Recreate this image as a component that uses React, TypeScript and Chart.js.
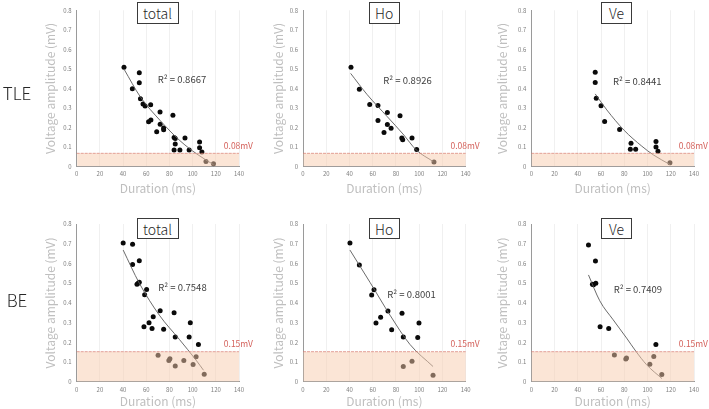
import React, { useEffect, useRef } from 'react';
import { Chart, registerables } from 'chart.js';

Chart.register(...registerables);

// ---------- data ----------
const groups = ['TLE', 'BE'];
const panelTitles = ['total', 'Ho', 'Ve'];
const xAxisTitle = 'Duration (ms)';
const yAxisTitle = 'Voltage amplitude (mV)';
const thresholdValues = [0.068, 0.153];
const thresholdLabels = ['0.08mV', '0.15mV'];
const rSquared = ['0.8667', '0.8926', '0.8441', '0.7548', '0.8001', '0.7409'];

const tleTotalDuration = [40.8, 54, 54, 48, 55, 57.2, 59, 63.8, 71.9, 62, 64, 72, 75, 75, 69, 83, 84, 85, 93.4, 85, 84, 89, 97, 106, 106, 108, 111.5, 118];
const tleTotalAmplitude = [0.509, 0.48, 0.429, 0.398, 0.347, 0.32, 0.31, 0.316, 0.28, 0.229, 0.239, 0.217, 0.197, 0.188, 0.178, 0.263, 0.149, 0.144, 0.147, 0.116, 0.085, 0.085, 0.085, 0.126, 0.096, 0.075, 0.026, 0.015];
const tleTotalTrendDuration = [41, 55, 72, 89, 103.5, 118];
const tleTotalTrendAmplitude = [0.497, 0.356, 0.236, 0.133, 0.065, 0.01];

const tleHoDuration = [41.3, 48.5, 57.4, 64.5, 64.5, 72.6, 72.6, 75.8, 69.7, 83.5, 85, 85.8, 93.8, 97.8, 112.7];
const tleHoAmplitude = [0.508, 0.396, 0.318, 0.313, 0.236, 0.277, 0.216, 0.196, 0.175, 0.26, 0.146, 0.138, 0.146, 0.087, 0.024];
const tleHoTrendDuration = [41, 55, 72.6, 86, 97.5, 112];
const tleHoTrendAmplitude = [0.477, 0.37, 0.255, 0.167, 0.085, 0.026];

const tleVeDuration = [55, 55, 55.9, 60, 63.1, 76, 85.2, 85.8, 89.8, 107.3, 107.3, 109, 119.3];
const tleVeAmplitude = [0.483, 0.43, 0.35, 0.311, 0.231, 0.19, 0.089, 0.12, 0.089, 0.129, 0.1, 0.078, 0.02];
const tleVeTrendDuration = [55, 65, 80, 95, 105, 119.5];
const tleVeTrendAmplitude = [0.372, 0.29, 0.185, 0.105, 0.06, 0.01];

const beTotalDuration = [40.1, 48.2, 48.2, 54, 53, 54, 52, 60.3, 58.6, 72, 66, 62.4, 58, 65, 75, 84, 85, 98, 97, 105, 70.2, 80.4, 79.5, 85, 92.4, 100.4, 103, 110];
const beTotalAmplitude = [0.704, 0.697, 0.595, 0.614, 0.5, 0.505, 0.495, 0.468, 0.441, 0.36, 0.33, 0.3, 0.28, 0.27, 0.267, 0.35, 0.228, 0.3, 0.228, 0.19, 0.135, 0.117, 0.108, 0.081, 0.108, 0.088, 0.128, 0.039];
const beTotalTrendDuration = [40.1, 54, 71.3, 88.6, 103, 109.4];
const beTotalTrendAmplitude = [0.668, 0.5, 0.338, 0.215, 0.11, 0.059];

const beHoDuration = [40.4, 48.5, 61.1, 59.1, 73.1, 66.8, 62.8, 76.3, 85.2, 86.3, 99.8, 98.7, 86.3, 93.8, 111.9];
const beHoAmplitude = [0.704, 0.592, 0.467, 0.44, 0.359, 0.328, 0.298, 0.264, 0.348, 0.227, 0.298, 0.225, 0.078, 0.105, 0.034];
const beHoTrendDuration = [40.4, 57.7, 74.9, 92, 111.9];
const beHoTrendAmplitude = [0.668, 0.504, 0.338, 0.19, 0.078];

const beVeDuration = [49.2, 55.2, 55.5, 53.5, 52.6, 59.2, 66.6, 107.2, 71.5, 81.3, 81.9, 102, 105.4, 112.3];
const beVeAmplitude = [0.694, 0.613, 0.5, 0.492, 0.495, 0.28, 0.271, 0.19, 0.136, 0.116, 0.121, 0.089, 0.129, 0.038];
const beVeTrendDuration = [49.2, 58.9, 70.4, 82, 90, 99.2, 112.4];
const beVeTrendAmplitude = [0.542, 0.411, 0.315, 0.222, 0.155, 0.087, 0.017];

const seriesDuration = [tleTotalDuration, tleHoDuration, tleVeDuration, beTotalDuration, beHoDuration, beVeDuration];
const seriesAmplitude = [tleTotalAmplitude, tleHoAmplitude, tleVeAmplitude, beTotalAmplitude, beHoAmplitude, beVeAmplitude];
const trendDuration = [tleTotalTrendDuration, tleHoTrendDuration, tleVeTrendDuration, beTotalTrendDuration, beHoTrendDuration, beVeTrendDuration];
const trendAmplitude = [tleTotalTrendAmplitude, tleHoTrendAmplitude, tleVeTrendAmplitude, beTotalTrendAmplitude, beHoTrendAmplitude, beVeTrendAmplitude];

// ---------- layout ----------
const FONT = "'Noto Sans CJK JP', 'Noto Sans', sans-serif";
const TITLE_SIZE = 12;
const cols = [
  { canvasLeft: 30, canvasRight: 262, areaLeft: 76.7, areaRight: 239, yTitleX: 50, boxLeft: 136.5, boxW: 42 },
  { canvasLeft: 262, canvasRight: 490, areaLeft: 303, areaRight: 465.7, yTitleX: 278.3, boxLeft: 368.5, boxW: 31.5 },
  { canvasLeft: 490, canvasRight: 709, areaLeft: 531.3, areaRight: 694, yTitleX: 502.7, boxLeft: 601, boxW: 31 },
];
const rows = [
  { canvasTop: 0, canvasBottom: 205, areaTop: 10.3, areaBottom: 166.6, xTitleY: 188.8, boxTop: 2, boxH: 22, groupY: 91.7 },
  { canvasTop: 205, canvasBottom: 409, areaTop: 224, areaBottom: 381.9, xTitleY: 401.3, boxTop: 218, boxH: 21, groupY: 299 },
];
// R² label anchors, in data coordinates of each panel
const r2Anchor = [
  [90.8, 0.446], [89.9, 0.439], [91.2, 0.437],
  [91.2, 0.477], [93.4, 0.443], [91.7, 0.471],
];

const overlayPlugin = {
  id: 'overlay',
  afterDatasetsDraw(chart: any, _args: any, opts: any) {
    const { ctx, chartArea: a, scales } = chart;
    const x = scales.x;
    const y = scales.y;
    const yT = y.getPixelForValue(opts.threshold);
    const y0 = y.getPixelForValue(0);
    ctx.save();
    ctx.fillStyle = 'rgba(247,203,173,0.5)';
    ctx.fillRect(a.left + 0.5, yT, a.right - a.left - 0.5, y0 - yT - 0.5);
    ctx.strokeStyle = 'rgba(214,120,110,0.85)';
    ctx.lineWidth = 0.8;
    ctx.setLineDash([3, 1]);
    ctx.beginPath();
    ctx.moveTo(a.left, yT);
    ctx.lineTo(a.right, yT);
    ctx.stroke();
    ctx.setLineDash([]);
    ctx.font = `8.5px ${FONT}`;
    ctx.fillStyle = '#d4625c';
    ctx.textAlign = 'right';
    ctx.textBaseline = 'middle';
    ctx.fillText(opts.thresholdLabel, a.right + 14, yT - 7.5);
    ctx.font = `9.5px ${FONT}`;
    ctx.fillStyle = '#404040';
    ctx.textAlign = 'center';
    ctx.fillText(`R² = ${opts.r2}`, x.getPixelForValue(opts.r2x), y.getPixelForValue(opts.r2y));
    ctx.restore();
  },
};

function buildConfig(pi: number) {
  const row = rows[Math.floor(pi / 3)];
  const col = cols[pi % 3];
  const g = Math.floor(pi / 3);
  const lh = TITLE_SIZE * 1.2;
  const padLeft = col.yTitleX - col.canvasLeft - lh / 2;
  const yWidth = col.areaLeft - col.canvasLeft - padLeft;
  const xHeight = row.xTitleY - row.areaBottom + lh / 2;
  const padBottom = row.canvasBottom - row.areaBottom - xHeight;
  const padTop = row.areaTop - row.canvasTop;
  const padRight = col.canvasRight - col.areaRight;

  const pts = seriesDuration[pi].map((d, i) => ({ x: d, y: seriesAmplitude[pi][i] }));
  const trend = trendDuration[pi].map((d, i) => ({ x: d, y: trendAmplitude[pi][i] }));

  return {
    type: 'scatter',
    data: {
      datasets: [
        {
          type: 'line',
          data: trend,
          borderColor: '#5a5a5a',
          borderWidth: 0.9,
          pointRadius: 0,
          tension: 0.4,
          cubicInterpolationMode: 'monotone',
          fill: false,
          showLine: true,
          order: 0,
        },
        {
          type: 'scatter',
          data: pts,
          backgroundColor: '#0a0a0a',
          borderWidth: 0,
          pointRadius: 2.5,
          order: 1,
        },
      ],
    },
    options: {
      responsive: false,
      maintainAspectRatio: false,
      animation: false,
      devicePixelRatio: 1,
      events: [],
      layout: { padding: { left: padLeft, right: padRight, top: padTop, bottom: padBottom } },
      plugins: {
        legend: { display: false },
        tooltip: { enabled: false },
        overlay: {
          threshold: thresholdValues[g],
          thresholdLabel: thresholdLabels[g],
          r2: rSquared[pi],
          r2x: r2Anchor[pi][0],
          r2y: r2Anchor[pi][1],
        },
      },
      scales: {
        x: {
          type: 'linear',
          min: 0,
          max: 140,
          afterFit: (s: any) => { s.height = xHeight; },
          ticks: { stepSize: 20, font: { size: 6, family: FONT }, color: '#7f7f7f', padding: 4 },
          grid: { color: '#f0f0f0', drawTicks: false, lineWidth: 1 },
          border: { display: true, color: '#9a9a9a', width: 1 },
          title: { display: true, text: xAxisTitle, color: '#bfbfbf', font: { size: TITLE_SIZE, family: FONT }, padding: 0 },
        },
        y: {
          type: 'linear',
          min: 0,
          max: 0.8,
          afterFit: (s: any) => { s.width = yWidth; },
          ticks: {
            stepSize: 0.1,
            font: { size: 6, family: FONT },
            color: '#7f7f7f',
            padding: 5,
            callback: (v: number) => (Math.abs(v) < 1e-9 ? '0' : Number(v).toFixed(1)),
          },
          grid: { color: 'rgba(0,0,0,0)', drawTicks: false },
          border: { display: true, color: '#9a9a9a', width: 1 },
          title: { display: true, text: yAxisTitle, color: '#bfbfbf', font: { size: TITLE_SIZE, family: FONT }, padding: 0 },
        },
      },
    },
    plugins: [overlayPlugin],
  };
}

function Panel({ pi }: { pi: number }) {
  const ref = useRef<HTMLCanvasElement>(null);
  const row = rows[Math.floor(pi / 3)];
  const col = cols[pi % 3];
  const w = col.canvasRight - col.canvasLeft;
  const h = row.canvasBottom - row.canvasTop;
  useEffect(() => {
    const chart = new Chart(ref.current as HTMLCanvasElement, buildConfig(pi) as any);
    return () => chart.destroy();
  }, [pi]);
  return (
    <>
      <canvas
        ref={ref}
        width={w}
        height={h}
        style={{ position: 'absolute', left: col.canvasLeft, top: row.canvasTop, width: w, height: h }}
      />
      <div
        style={{
          position: 'absolute',
          left: col.boxLeft,
          top: row.boxTop,
          width: col.boxW,
          height: row.boxH,
          boxSizing: 'border-box',
          border: '1px solid #3a3a3a',
          background: '#fff',
          display: 'flex',
          alignItems: 'center',
          justifyContent: 'center',
          font: `300 14px ${FONT}`,
          color: '#262626',
        }}
      >
        {panelTitles[pi % 3]}
      </div>
    </>
  );
}

export default function App() {
  return (
    <div style={{ position: 'fixed', left: 0, top: 0, width: 709, height: 409, background: '#fff', overflow: 'hidden' }}>
      {[0, 1, 2, 3, 4, 5].map((pi) => (
        <Panel key={pi} pi={pi} />
      ))}
      {groups.map((g, i) => (
        <div
          key={g}
          style={{
            position: 'absolute',
            left: 0,
            width: 34,
            top: rows[i].groupY - 12,
            height: 24,
            lineHeight: '24px',
            textAlign: 'center',
            font: `300 17px ${FONT}`,
            color: '#262626',
          }}
        >
          {g}
        </div>
      ))}
    </div>
  );
}
